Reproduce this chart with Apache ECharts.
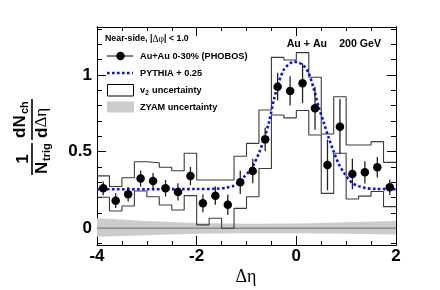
<!DOCTYPE html>
<html><head><meta charset="utf-8">
<script src="https://cdn.jsdelivr.net/npm/echarts@6/dist/echarts.min.js"></script>
<style>html,body{margin:0;padding:0;background:#fff}#c{width:440px;height:290px}</style>
</head><body><div id="c"></div>
<script>
// ---- data ----
const etaCenters = [-3.875,-3.625,-3.375,-3.125,-2.875,-2.625,-2.375,-2.125,-1.875,-1.625,-1.375,-1.125,-0.875,-0.625,-0.375,-0.125,0.125,0.375,0.625,0.875,1.125,1.375,1.625,1.875];
const yieldValues = [0.261,0.18,0.222,0.324,0.309,0.261,0.237,0.341,0.163,0.213,0.154,0.30,0.374,0.58,0.924,0.896,0.946,0.783,0.413,0.663,0.354,0.365,0.398,0.267];
const statErrors  = [0.045,0.048,0.048,0.052,0.052,0.054,0.056,0.059,0.059,0.06,0.067,0.076,0.08,0.076,0.09,0.095,0.13,0.14,0.165,0.18,0.1,0.073,0.067,0.05];
const binEdges = [-4,-3.75,-3.5,-3.25,-3,-2.75,-2.5,-2.25,-2,-1.75,-1.5,-1.25,-1,-0.75,-0.5,-0.25,0,0.25,0.5,0.75,1,1.25,1.5,1.75,2];
const v2Lower = [0.202,0.113,0.145,0.243,0.206,0.152,0.119,0.213,0.022,0.065,0.0,0.13,0.206,0.39,0.739,0.72,0.768,0.609,0.228,0.489,0.191,0.21,0.24,0.141];
const v2Upper = [0.342,0.273,0.33,0.434,0.428,0.398,0.375,0.489,0.315,0.315,0.315,0.47,0.554,0.772,1.115,1.098,1.146,0.985,0.615,0.858,0.543,0.543,0.565,0.43];
const pythiaEta = [-4.0,-3.0,-2.0,-1.6,-1.4,-1.25,-1.15,-1.05,-0.95,-0.85,-0.75,-0.65,-0.55,-0.45,-0.35,-0.25,-0.15,-0.05,0.05,0.15,0.25,0.35,0.45,0.55,0.65,0.75,0.85,0.95,1.05,1.15,1.25,1.4,1.6,2.0];
const pythiaValues = [0.255,0.255,0.256,0.258,0.265,0.278,0.30,0.335,0.37,0.42,0.49,0.58,0.69,0.84,0.955,1.035,1.07,1.087,1.08,1.06,1.01,0.91,0.79,0.69,0.59,0.5,0.42,0.365,0.32,0.29,0.275,0.262,0.257,0.255];
const zyamEta  = [-4,-3,-2,-1,0,1,2];
const zyamLow  = [-0.055,-0.045,-0.036,-0.033,-0.033,-0.036,-0.04];
const zyamHigh = [0.065,0.048,0.035,0.03,0.032,0.04,0.048];
const yMajorTicks = [0,0.5,1];
const yMinorTicks = [-0.1,0.1,0.2,0.3,0.4,0.6,0.7,0.8,0.9,1.1,1.2,1.3];

const SANS = '"Liberation Sans", Arial, Helvetica, sans-serif';
const SERIF = '"Liberation Serif", "DejaVu Serif", serif';
const chart = echarts.init(document.getElementById('c'), null, {renderer:'canvas'});

const YMIN = -0.109, YMAX = 1.313;
const lineBlack = {color:'#000', width:1};
const labelStyle = {fontSize:17, fontWeight:'bold', fontFamily:SANS, color:'#000'};
function xAx(pos, labels){
  return {type:'value', position:pos, min:-4, max:2, interval:2,
    axisLine:{show:true, onZero:false, lineStyle:lineBlack},
    axisTick:{show:true, inside:true, length:9, lineStyle:lineBlack},
    minorTick:{show:true, splitNumber:4, length:4, lineStyle:lineBlack},
    splitLine:{show:false}, minorSplitLine:{show:false},
    axisLabel:Object.assign({show:labels, margin:3, formatter:v=>String(v)}, labelStyle)};
}
function yAx(pos, ticks, len, labels){
  return {type:'value', position:pos, min:YMIN, max:YMAX,
    axisLine:{show:true, onZero:false, lineStyle:lineBlack},
    axisTick:{show:true, inside:true, length:len, customValues:ticks, lineStyle:lineBlack},
    splitLine:{show:false},
    axisLabel:Object.assign({show:labels, customValues:ticks, margin:5, formatter:v=>String(v)}, labelStyle)};
}

const v2UpperStep = binEdges.map((e,i)=>[e, v2Upper[Math.min(i, v2Upper.length-1)]]);
const v2LowerStep = binEdges.map((e,i)=>[e, v2Lower[Math.min(i, v2Lower.length-1)]]);

const option = {
  animation:false,
  grid:{left:97, top:27, width:299, height:218, show:false},
  xAxis:[xAx('bottom', true), xAx('top', false)],
  yAxis:[yAx('left', yMajorTicks, 9, true), yAx('left', yMinorTicks, 5, false),
         yAx('right', yMajorTicks, 9, false), yAx('right', yMinorTicks, 5, false)],
  series:[
    {type:'custom', xAxisIndex:0, yAxisIndex:0, z:1,
      data: zyamEta.map((x,i)=>[x, zyamLow[i], zyamHigh[i]]),
      renderItem:function(params, api){
        if (params.dataIndex !== 0) return null;
        const pts = [];
        for (let i=0;i<zyamEta.length;i++) pts.push(api.coord([zyamEta[i], zyamHigh[i]]));
        for (let i=zyamEta.length-1;i>=0;i--) pts.push(api.coord([zyamEta[i], zyamLow[i]]));
        return {type:'polygon', shape:{points:pts}, style:{fill:'#cccccc', stroke:null}};
      }},
    {type:'line', z:2, data:[[-4,0],[2,0]], symbol:'none', lineStyle:{color:'#8a8a8a', width:1.5}},
    {type:'line', z:3, step:'end', data:v2UpperStep, symbol:'none', lineStyle:{color:'#3a3a3a', width:1.1}},
    {type:'line', z:3, step:'end', data:v2LowerStep, symbol:'none', lineStyle:{color:'#3a3a3a', width:1.1}},
    {type:'line', z:4, data:pythiaEta.map((x,i)=>[x, pythiaValues[i]]), symbol:'none', smooth:0.3,
      lineStyle:{color:'#0a0aff', width:2.6, type:[2.6,2.4]}},
    {type:'custom', z:5, data: etaCenters.map((x,i)=>[x, yieldValues[i], statErrors[i]]),
      renderItem:function(params, api){
        const x = api.value(0), y = api.value(1), e = api.value(2);
        const a = api.coord([x, y-e]), b = api.coord([x, y+e]);
        return {type:'line', shape:{x1:a[0], y1:a[1], x2:b[0], y2:b[1]}, style:{stroke:'#222', lineWidth:1.3}};
      }},
    {type:'scatter', z:6, data: etaCenters.map((x,i)=>[x, yieldValues[i]]), symbol:'circle', symbolSize:8.5,
      itemStyle:{color:'#000', opacity:1}}
  ],
  graphic:[
    // legend
    {type:'text', x:105, y:39, style:{text:'{b|Near-side, |}{g|Δφ}{b|| < 1.0}', verticalAlign:'middle', align:'left',
      rich:{b:{fontSize:8.8, fontWeight:'bold', fontFamily:SANS, fill:'#000'}, g:{fontSize:9.5, fontFamily:SERIF, fill:'#000'}}}},
    {type:'line', shape:{x1:107, y1:56, x2:133, y2:56}, style:{stroke:'#000', lineWidth:1}},
    {type:'circle', shape:{cx:120.5, cy:56, r:4.2}, style:{fill:'#000'}},
    {type:'text', x:140, y:56, style:{text:'Au+Au 0-30% (PHOBOS)', font:'bold 9.2px '+SANS, fill:'#000', verticalAlign:'middle'}},
    {type:'line', shape:{x1:107, y1:73, x2:133, y2:73}, style:{stroke:'#0a0aff', lineWidth:2.6, lineDash:[2.6,2.4]}},
    {type:'text', x:140, y:73, style:{text:'PYTHIA + 0.25', font:'bold 9.2px '+SANS, fill:'#000', verticalAlign:'middle'}},
    {type:'rect', shape:{x:107.5, y:84.5, width:26, height:11.5}, style:{fill:'#fff', stroke:'#000', lineWidth:1}},
    {type:'text', x:140, y:90, style:{text:'v', font:'bold 9.2px '+SANS, fill:'#000', verticalAlign:'middle'}},
    {type:'text', x:145.3, y:93, style:{text:'2', font:'bold 6.5px '+SANS, fill:'#000', verticalAlign:'middle'}},
    {type:'text', x:149.5, y:90, style:{text:' uncertainty', font:'bold 9.2px '+SANS, fill:'#000', verticalAlign:'middle'}},
    {type:'rect', shape:{x:107, y:101.5, width:27, height:11}, style:{fill:'#cccccc'}},
    {type:'text', x:140, y:107, style:{text:'ZYAM uncertainty', font:'bold 9.2px '+SANS, fill:'#000', verticalAlign:'middle'}},
    // header
    {type:'text', x:286.7, y:44, style:{text:'Au + Au', font:'bold 10.6px '+SANS, fill:'#000', verticalAlign:'middle'}},
    {type:'text', x:381, y:44, style:{text:'200 GeV', font:'bold 10.6px '+SANS, fill:'#000', verticalAlign:'middle', align:'right'}},
    // x axis title
    {type:'text', x:246, y:277, style:{text:'Δη', font:'18px '+SERIF, fill:'#000', verticalAlign:'middle', align:'center'}},
    // y axis title (rotated)
    {type:'group', x:32, y:141, rotation:Math.PI/2, children:[
      {type:'line', shape:{x1:-34, y1:0, x2:-2, y2:0}, style:{stroke:'#000', lineWidth:1.6}},
      {type:'text', x:-18, y:-9, style:{text:'1', font:'bold 17px '+SANS, fill:'#000', align:'center', verticalAlign:'middle'}},
      {type:'text', x:-33, y:10, style:{text:'N', font:'bold 17px '+SANS, fill:'#000', align:'left', verticalAlign:'middle'}},
      {type:'text', x:-20, y:15, style:{text:'trig', font:'bold 11px '+SANS, fill:'#000', align:'left', verticalAlign:'middle'}},
      {type:'line', shape:{x1:1, y1:0, x2:42, y2:0}, style:{stroke:'#000', lineWidth:1.6}},
      {type:'text', x:3, y:-12, style:{text:'dN', font:'bold 17px '+SANS, fill:'#000', align:'left', verticalAlign:'middle'}},
      {type:'text', x:27, y:-7, style:{text:'ch', font:'bold 11px '+SANS, fill:'#000', align:'left', verticalAlign:'middle'}},
      {type:'text', x:3, y:10, style:{text:'{d|d}{g|Δη}', align:'left', verticalAlign:'middle',
        rich:{d:{fontSize:17, fontWeight:'bold', fontFamily:SANS, fill:'#000'}, g:{fontSize:17, fontFamily:SERIF, fill:'#000'}}}}
    ]}
  ]
};
chart.setOption(option);
</script></body></html>
